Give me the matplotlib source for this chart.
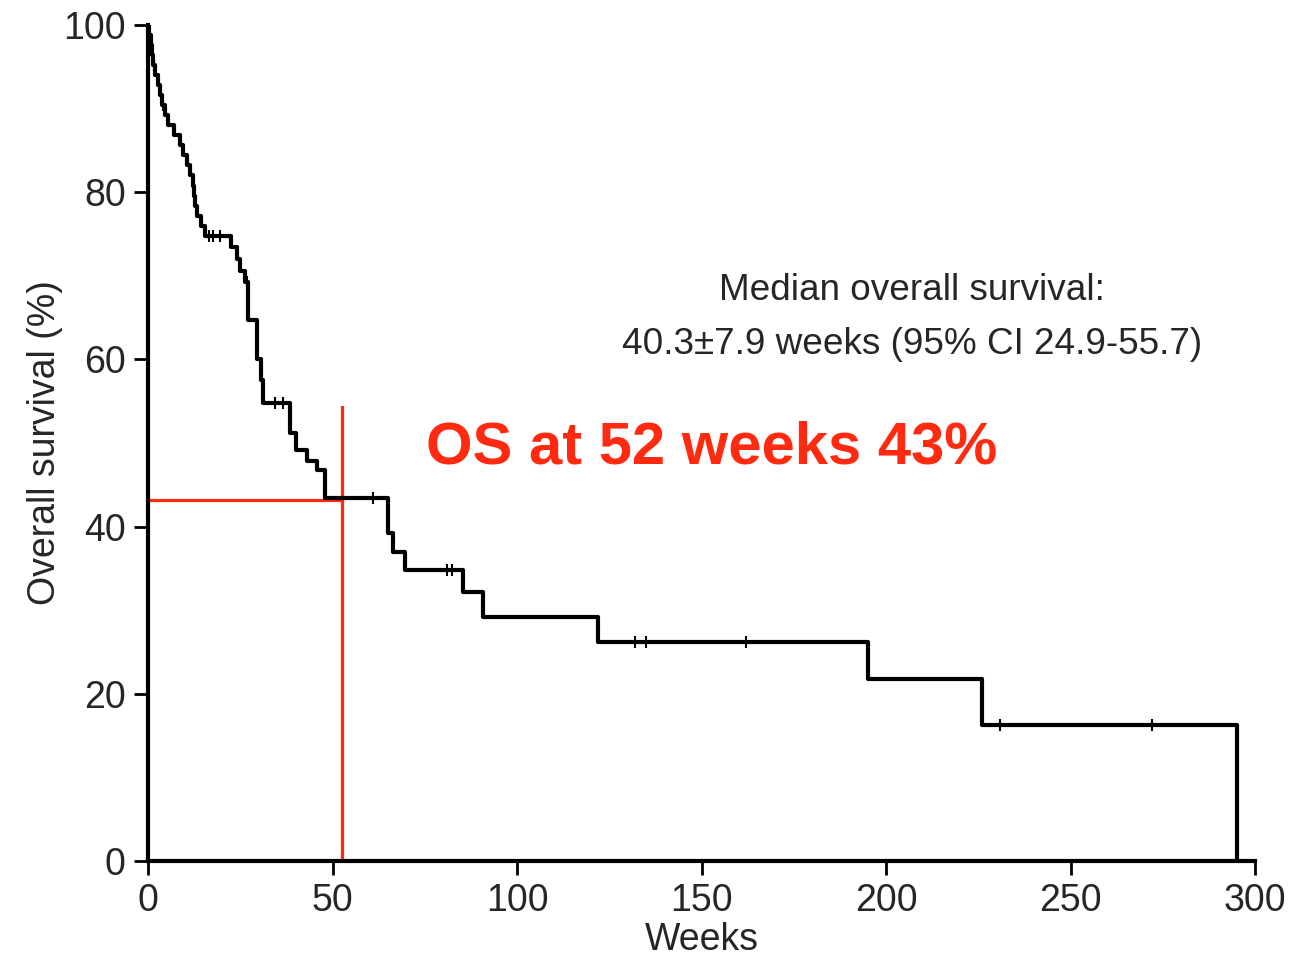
import matplotlib
matplotlib.use("Agg")
import matplotlib.pyplot as plt
import numpy as np

# Kaplan-Meier step data (weeks, survival % after the event)
event_weeks = [0, 0.3, 0.7, 1.0, 1.4, 1.8, 2.6, 3.3, 3.9, 4.6, 5.4, 7.0, 8.7, 9.6,
               10.5, 11.5, 12.2, 12.5, 12.8, 13.4, 14.3, 15.5, 22.6, 24.0, 25.0,
               26.3, 27.2, 29.6, 30.5, 31.2, 38.5, 40.0, 43.0, 45.8, 48.0, 65.0,
               66.3, 69.6, 85.4, 90.8, 122.0, 195.0, 226.0, 295.0]
survival = [100, 98.8, 97.6, 96.4, 95.2, 94.0, 92.8, 91.6, 90.4, 89.2, 88.0, 86.8,
            85.6, 84.4, 83.2, 82.0, 80.8, 79.6, 78.4, 77.2, 76.0, 74.8, 73.4, 72.0,
            70.6, 69.2, 64.7, 60.0, 57.5, 54.8, 51.2, 49.2, 47.8, 46.8, 43.4, 39.2,
            37.0, 34.8, 32.2, 29.2, 26.2, 21.8, 16.3, 0.0]
censor_weeks = [1.5, 4.2, 16.5, 17.5, 19.5, 26.8, 34.4, 36.5, 61.0, 81.0, 82.4,
                132.0, 135.0, 162.0, 231.0, 272.0]

x_ticks = [0, 50, 100, 150, 200, 250, 300]
y_ticks = [0, 20, 40, 60, 80, 100]
os52_week = 52.5
os52_value = 43.2

plt.rcParams['font.family'] = ['Liberation Sans', 'DejaVu Sans']

fig = plt.figure(figsize=(13.04, 9.60), dpi=100)
ax = fig.add_axes([148/1304, 1-861/960, (1255-148)/1304, (861-25)/960])

ax.step(event_weeks, survival, where='post', color='black', lw=3.0, zorder=3)

ev = np.array(event_weeks)
sv = np.array(survival)
cens_y = [sv[np.searchsorted(ev, c, side='right') - 1] for c in censor_weeks]
ax.plot(censor_weeks, cens_y, linestyle='none', marker='|', color='black',
        markersize=9, markeredgewidth=1.5, zorder=4)

red = '#ff2a10'
ax.plot([0, os52_week], [os52_value, os52_value], color=red, lw=2.3, zorder=2)
ax.plot([os52_week, os52_week], [0, 54.3], color=red, lw=2.3, zorder=2)

txt_color = '#262626'
ax.text(207, 68.3, 'Median overall survival:', ha='center', va='center',
        fontsize=26.6, color=txt_color)
ax.text(207, 61.8, '40.3\u00b17.9 weeks (95% CI 24.9-55.7)', ha='center', va='center',
        fontsize=26.6, color=txt_color)
ax.text(152.8, 49.4, 'OS at 52 weeks 43%', ha='center', va='center',
        fontsize=43, fontweight='bold', color=red,
        family=['Liberation Sans Narrow', 'Liberation Sans', 'DejaVu Sans'])

ax.set_xlim(0, 300)
ax.set_ylim(0, 100)
ax.set_xticks(x_ticks)
ax.set_yticks(y_ticks)
ax.tick_params(axis='both', labelsize=27, length=10, width=2, direction='out',
               colors='black', labelcolor=txt_color, pad=6)
for s in ['top', 'right']:
    ax.spines[s].set_visible(False)
for s in ['left', 'bottom']:
    ax.spines[s].set_linewidth(3)
ax.set_xlabel('Weeks', fontsize=27, color=txt_color, labelpad=2)
ax.set_ylabel('Overall survival (%)', fontsize=27, color=txt_color, labelpad=0)

fig.savefig('out.png', dpi=100)
